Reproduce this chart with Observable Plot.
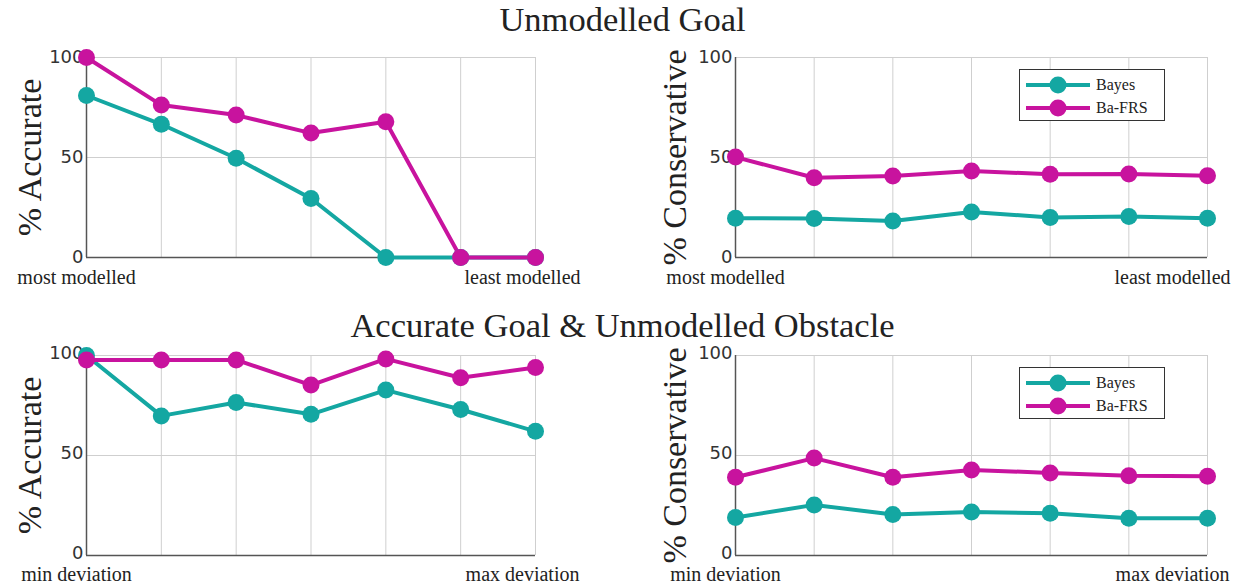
<!DOCTYPE html>
<html>
<head>
<meta charset="utf-8">
<script src="https://cdn.jsdelivr.net/npm/d3@7"></script>
<script src="https://cdn.jsdelivr.net/npm/@observablehq/plot@0.6"></script>
<style>
  html, body { margin: 0; padding: 0; background: #fff; }
  #root { position: relative; width: 1245px; height: 586px; background: #fff; overflow: hidden; }
  .title { position: absolute; left: 0; width: 1245px; text-align: center; font-family: "Liberation Serif", serif; font-size: 34.5px; color: #222; line-height: 39px; }
  .panel { position: absolute; }
  .legend { position: absolute; width: 144px; height: 50px; border: 1.5px solid #333; background: #fff; font-family: "Liberation Serif", serif; font-size: 16px; color: #222; }
  .legend .row { position: absolute; left: 0; height: 22px; display: flex; align-items: center; }
  .legend svg { display: block; }
</style>
</head>
<body>
<div id="root"></div>
<script>
// ---- data ----
const xPos = [1, 2, 3, 4, 5, 6, 7];
const seriesNames = ["Bayes", "Ba-FRS"];
const seriesColors = ["#14a7a2", "#c8139e"];
const yTicks = [0, 50, 100];

const goalAccBayes  = [81, 66.6, 49.6, 29.5, 0, 0, 0];
const goalAccBaFRS  = [100, 76.2, 71.2, 62.2, 67.9, 0, 0];
const goalConsBayes = [19.6, 19.5, 18.3, 22.8, 20, 20.5, 19.6];
const goalConsBaFRS = [50.2, 39.9, 40.8, 43.3, 41.6, 41.8, 40.9];
const obsAccBayes   = [100, 69.8, 76.5, 70.6, 82.7, 73, 62.1];
const obsAccBaFRS   = [97.8, 97.8, 97.8, 85.2, 98.3, 88.9, 94];
const obsConsBayes  = [19, 25.3, 20.5, 21.8, 21.1, 18.6, 18.6];
const obsConsBaFRS  = [39.1, 48.7, 39.1, 42.8, 41.3, 39.9, 39.6];

const titles = ["Unmodelled Goal", "Accurate Goal & Unmodelled Obstacle"];
const goalXLabels = ["most modelled", "least modelled"];
const obsXLabels = ["min deviation", "max deviation"];

// ---- helpers ----
function rows(bayes, bafrs) {
  const out = [];
  xPos.forEach((x, i) => out.push({x, y: bayes[i], s: seriesNames[0]}));
  xPos.forEach((x, i) => out.push({x, y: bafrs[i], s: seriesNames[1]}));
  return out;
}

function panel({bayes, bafrs, ylabel, xlabels, width, marginLeft, marginRight, labelDx, lastDx, pad, tickDy}) {
  const data = rows(bayes, bafrs);
  const xAxisStyle = {tickSize: 0, tickPadding: pad, fontSize: 20, fontFamily: "Liberation Serif, serif", fill: "#222", label: null};
  return Plot.plot({
    width, height: 262,
    marginLeft, marginRight, marginTop: 17, marginBottom: 45,
    style: {background: "transparent", overflow: "visible"},
    x: {type: "linear", domain: [1, 7]},
    y: {domain: [0, 100]},
    color: {domain: seriesNames, range: seriesColors},
    marks: [
      Plot.gridX(xPos, {stroke: "#cfcfcf", strokeOpacity: 1, strokeWidth: 1}),
      Plot.gridY(yTicks, {stroke: "#cfcfcf", strokeOpacity: 1, strokeWidth: 1}),
      Plot.ruleX([1], {stroke: "#555", strokeWidth: 1.5}),
      Plot.ruleY([0], {stroke: "#555", strokeWidth: 1.5}),
      Plot.axisY(yTicks, {tickSize: 0, tickPadding: 3, dy: tickDy, fontSize: 18, fontFamily: "DejaVu Sans, sans-serif", fill: "#333", label: null}),
      Plot.axisX([1], {...xAxisStyle, dx: -10, tickFormat: () => xlabels[0]}),
      Plot.axisX([7], {...xAxisStyle, dx: lastDx, tickFormat: () => xlabels[1]}),
      Plot.text([ylabel], {frameAnchor: "left", textAnchor: "middle", rotate: -90, dx: labelDx, fontSize: 34, fontFamily: "Liberation Serif, serif", fill: "#222"}),
      Plot.line(data, {x: "x", y: "y", z: "s", stroke: "s", strokeWidth: 4}),
      Plot.dot(data, {x: "x", y: "y", fill: "s", r: 8.5, stroke: null})
    ]
  });
}

function legend(left, top) {
  const lg = document.createElement("div");
  lg.className = "legend";
  lg.style.left = left + "px";
  lg.style.top = top + "px";
  seriesNames.forEach((name, i) => {
    const row = document.createElement("div");
    row.className = "row";
    row.style.top = (4 + i * 23) + "px";
    const svg = d3.create("svg").attr("width", 76).attr("height", 22);
    svg.append("line").attr("x1", 6).attr("x2", 70).attr("y1", 11).attr("y2", 11)
      .attr("stroke", seriesColors[i]).attr("stroke-width", 4);
    svg.append("circle").attr("cx", 38).attr("cy", 11).attr("r", 8.5).attr("fill", seriesColors[i]);
    row.appendChild(svg.node());
    const t = document.createElement("span");
    t.textContent = name;
    row.appendChild(t);
    lg.appendChild(row);
  });
  return lg;
}

const root = document.getElementById("root");

function addTitle(text, top) {
  const d = document.createElement("div");
  d.className = "title";
  d.style.top = top + "px";
  d.textContent = text;
  root.appendChild(d);
}

function addPanel(node, left, top) {
  const d = document.createElement("div");
  d.className = "panel";
  d.style.left = left + "px";
  d.style.top = top + "px";
  d.appendChild(node);
  root.appendChild(d);
}

addTitle(titles[0], 0);
addTitle(titles[1], 306);

addPanel(panel({bayes: goalAccBayes, bafrs: goalAccBaFRS, ylabel: "% Accurate", xlabels: goalXLabels, width: 600, marginLeft: 86, marginRight: 65, labelDx: -56, lastDx: -13, pad: 12, tickDy: 0}), 0, 40);
addPanel(panel({bayes: goalConsBayes, bafrs: goalConsBaFRS, ylabel: "% Conservative", xlabels: goalXLabels, width: 605, marginLeft: 95, marginRight: 38, labelDx: -60, lastDx: -35, pad: 12, tickDy: 0}), 640, 40);
addPanel(panel({bayes: obsAccBayes, bafrs: obsAccBaFRS, ylabel: "% Accurate", xlabels: obsXLabels, width: 600, marginLeft: 86, marginRight: 65, labelDx: -56, lastDx: -13, pad: 11, tickDy: -2}), 0, 338);
addPanel(panel({bayes: obsConsBayes, bafrs: obsConsBaFRS, ylabel: "% Conservative", xlabels: obsXLabels, width: 605, marginLeft: 95, marginRight: 38, labelDx: -60, lastDx: -35, pad: 11, tickDy: -2}), 640, 338);

root.appendChild(legend(1019, 69));
root.appendChild(legend(1019, 367));
</script>
</body>
</html>
